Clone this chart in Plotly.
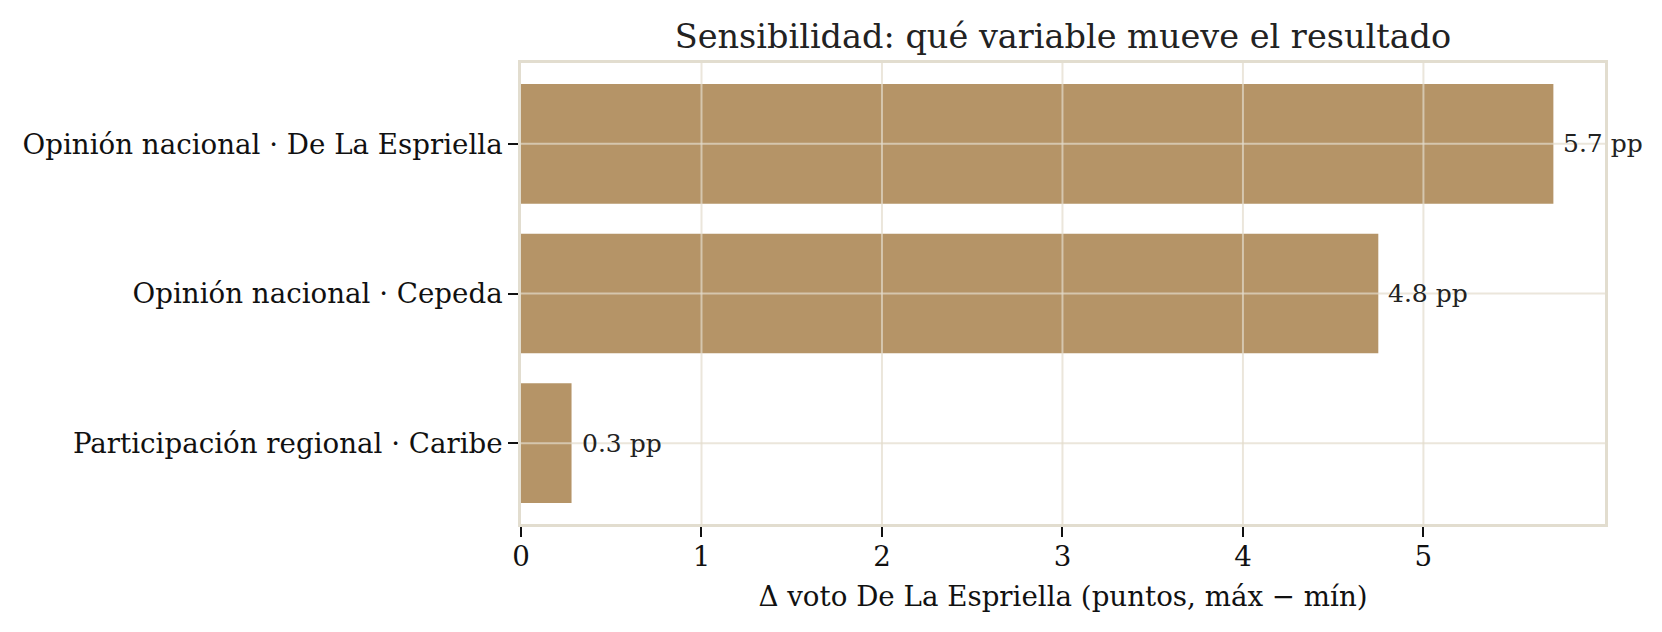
import plotly.graph_objects as go

categories = [
    "Participación regional · Caribe",
    "Opinión nacional · Cepeda",
    "Opinión nacional · De La Espriella",
]
delta_pp = [0.28, 4.75, 5.72]
bar_labels = ["0.3 pp", "4.8 pp", "5.7 pp"]
x_ticks = [0, 1, 2, 3, 4, 5]

font = "DejaVu Serif"
bar_color = "#b59467"
grid_color = "rgba(226,220,204,0.7)"
frame_color = "#e2ddcf"

# page body adds an 8px offset, so the figure is a bit smaller than the window
W, H = 1654, 624

fig = go.Figure()
fig.add_trace(go.Bar(
    x=delta_pp, y=list(range(len(categories))), orientation="h",
    width=0.8, marker=dict(color=bar_color, line=dict(width=0)),
    showlegend=False, hoverinfo="skip",
))

for i, (v, lab) in enumerate(zip(delta_pp, bar_labels)):
    fig.add_annotation(x=v, y=i, text=lab, showarrow=False, xanchor="left",
                       xshift=8, font=dict(family=font, size=25, color="#222222"))

# grid drawn above the bars, like the original
for t in x_ticks[1:]:
    fig.add_shape(type="line", xref="x", yref="paper", x0=t, x1=t, y0=0, y1=1,
                  line=dict(color=grid_color, width=2), layer="above")
for i in range(len(categories)):
    fig.add_shape(type="line", xref="paper", yref="y", x0=0, x1=1, y0=i, y1=i,
                  line=dict(color=grid_color, width=2), layer="above")

fig.update_layout(
    width=W, height=H,
    paper_bgcolor="white", plot_bgcolor="white",
    margin=dict(l=513, r=57, t=55, b=108),
    font=dict(family=font, color="#111111"),
    title=dict(text="Sensibilidad: qué variable mueve el resultado",
               x=(513 + 1597) / 2 / W, xanchor="center",
               y=1 - 28.5 / H, yanchor="middle",
               font=dict(family=font, size=33.5, color="#222222")),
)
fig.update_xaxes(
    range=[0, 5.72 * 1.05], tickvals=x_ticks,
    showgrid=False,
    zeroline=False, showline=True, linecolor=frame_color, linewidth=2.5, mirror=True,
    ticks="outside", ticklen=10, tickwidth=2.2, tickcolor="#111111",
    tickfont=dict(family=font, size=27.7, color="#111111"),
    ticklabelstandoff=-4,
    title=dict(text="Δ voto De La Espriella (puntos, máx − mín)",
               font=dict(family=font, size=27.7, color="#111111"), standoff=15),
    layer="above traces",
)
fig.update_yaxes(
    range=[-0.54, 2.54], tickvals=list(range(len(categories))), ticktext=categories,
    showgrid=False,
    zeroline=False, showline=True, linecolor=frame_color, linewidth=2.5, mirror=True,
    ticks="outside", ticklen=10, tickwidth=2.2, tickcolor="#111111",
    tickfont=dict(family=font, size=27.7, color="#111111"),
    layer="above traces",
)

fig.write_html("out.html")
